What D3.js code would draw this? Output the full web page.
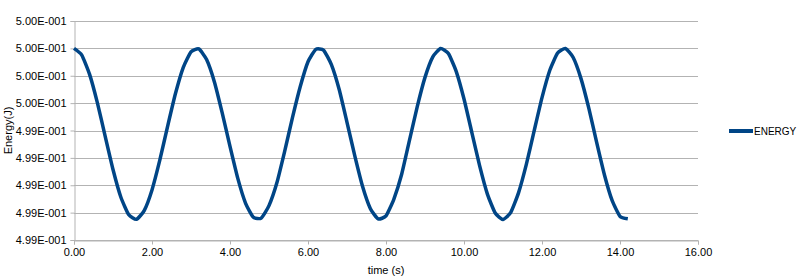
<!DOCTYPE html>
<html>
<head>
<meta charset="utf-8">
<script src="https://cdn.jsdelivr.net/npm/d3@7"></script>
<style>
  body { margin: 0; background: #fff; }
  svg { display: block; font-family: "Liberation Sans", Arial, sans-serif; }
</style>
</head>
<body>
<div id="chart"></div>
<script>
// time samples (s)
var times = [0.0, 0.2, 0.4, 0.6, 0.8, 1.0, 1.2, 1.4, 1.6, 1.8,
  2.0, 2.2, 2.4, 2.6, 2.8, 3.0, 3.2, 3.4, 3.6, 3.8,
  4.0, 4.2, 4.4, 4.6, 4.8, 5.0, 5.2, 5.4, 5.6, 5.8,
  6.0, 6.2, 6.4, 6.6, 6.8, 7.0, 7.2, 7.4, 7.6, 7.8,
  8.0, 8.2, 8.4, 8.6, 8.8, 9.0, 9.2, 9.4, 9.6, 9.8,
  10.0, 10.2, 10.4, 10.6, 10.8, 11.0, 11.2, 11.4, 11.6, 11.8,
  12.0, 12.2, 12.4, 12.6, 12.8, 13.0, 13.2, 13.4, 13.6, 13.8,
  14.0, 14.2];

// energy values (J)
var energy = [0.4995500, 0.4995451, 0.4995310, 0.4995102, 0.4994857, 0.4994615, 0.4994414, 0.4994286, 0.4994251, 0.4994315,
  0.4994466, 0.4994683, 0.4994930, 0.4995168, 0.4995360, 0.4995475, 0.4995496, 0.4995418, 0.4995255, 0.4995029,
  0.4994784, 0.4994550, 0.4994368, 0.4994266, 0.4994260, 0.4994351, 0.4994516, 0.4994746, 0.4994992, 0.4995219,
  0.4995402, 0.4995493, 0.4995487, 0.4995381, 0.4995199, 0.4994960, 0.4994715, 0.4994491, 0.4994329, 0.4994254,
  0.4994276, 0.4994397, 0.4994578, 0.4994826, 0.4995073, 0.4995288, 0.4995438, 0.4995499, 0.4995462, 0.4995332,
  0.4995130, 0.4994887, 0.4994643, 0.4994435, 0.4994297, 0.4994250, 0.4994302, 0.4994446, 0.4994654, 0.4994899,
  0.4995140, 0.4995340, 0.4995466, 0.4995499, 0.4995433, 0.4995279, 0.4995063, 0.4994815, 0.4994577, 0.4994387,
  0.4994273, 0.4994255];

var xTicks = [0, 2, 4, 6, 8, 10, 12, 14, 16];
var yTicks = [0.49941, 0.49943, 0.49945, 0.49947, 0.49949, 0.49951, 0.49953, 0.49955, 0.49957];
var seriesName = "ENERGY";

// chart dimensions
var W = 800, H = 280;
var margin = {top: 21, right: 102, bottom: 40, left: 74},
    width = W - margin.left - margin.right,
    height = H - margin.top - margin.bottom;

var x = d3.scaleLinear().domain([0, 16]).range([0, width]);
var y = d3.scaleLinear().domain([yTicks[0], yTicks[yTicks.length - 1]]).range([height, 0]);

// 5.00E-001 style labels
function sci(v) {
  var s = v.toExponential(2).split("e");
  var e = +s[1];
  var pad = ("000" + Math.abs(e)).slice(-3);
  return s[0] + "E" + (e < 0 ? "-" : "+") + pad;
}

var svg = d3.select("#chart").append("svg")
    .attr("width", W)
    .attr("height", H);

var g = svg.append("g")
    .attr("transform", "translate(" + margin.left + "," + margin.top + ")");

// horizontal grid
g.append("g")
  .selectAll("line")
  .data(yTicks)
  .join("line")
    .attr("x1", 0)
    .attr("x2", width)
    .attr("y1", function(d) { return Math.round(y(d)) + 0.5; })
    .attr("y2", function(d) { return Math.round(y(d)) + 0.5; })
    .attr("stroke", "#b3b3b3");

// axes
var xAxis = g.append("g")
    .attr("transform", "translate(0," + (Math.round(height) + 0.5) + ")")
    .call(d3.axisBottom(x).tickValues(xTicks).tickSize(4).tickPadding(4).tickFormat(d3.format(".2f")));

var yAxis = g.append("g")
    .attr("transform", "translate(0.5,0)")
    .call(d3.axisLeft(y).tickValues(yTicks).tickSize(4).tickPadding(4).tickFormat(sci));

[xAxis, yAxis].forEach(function(a) {
  a.select(".domain").attr("stroke", "#b3b3b3");
  a.selectAll(".tick line").attr("stroke", "#b3b3b3");
  a.selectAll(".tick text")
    .attr("fill", "#000")
    .style("font-size", "11px")
    .style("font-family", "'Liberation Sans', Arial, sans-serif");
});

// energy line
var points = times.map(function(t, i) { return [t, energy[i]]; });

var line = d3.line()
    .x(function(d) { return x(d[0]); })
    .y(function(d) { return y(d[1]); })
    .curve(d3.curveCardinal.tension(0.5));

g.append("path")
    .datum(points)
    .attr("fill", "none")
    .attr("stroke", "#004586")
    .attr("stroke-width", 3.5)
    .attr("stroke-linejoin", "round")
    .attr("d", line);

// axis titles
svg.append("text")
    .attr("x", margin.left + x(8))
    .attr("y", 274)
    .attr("text-anchor", "middle")
    .style("font-size", "11px")
    .text("time (s)");

svg.append("text")
    .attr("transform", "translate(12," + (margin.top + height / 2) + ") rotate(-90)")
    .attr("text-anchor", "middle")
    .style("font-size", "11px")
    .text("Energy(J)");

// legend
var lg = svg.append("g").attr("transform", "translate(729,131)");
lg.append("line")
    .attr("x1", 0).attr("x2", 24)
    .attr("stroke", "#004586")
    .attr("stroke-width", 4);
lg.append("text")
    .attr("x", 25)
    .attr("dy", "0.35em")
    .style("font-size", "10px")
    .text(seriesName);
</script>
</body>
</html>
